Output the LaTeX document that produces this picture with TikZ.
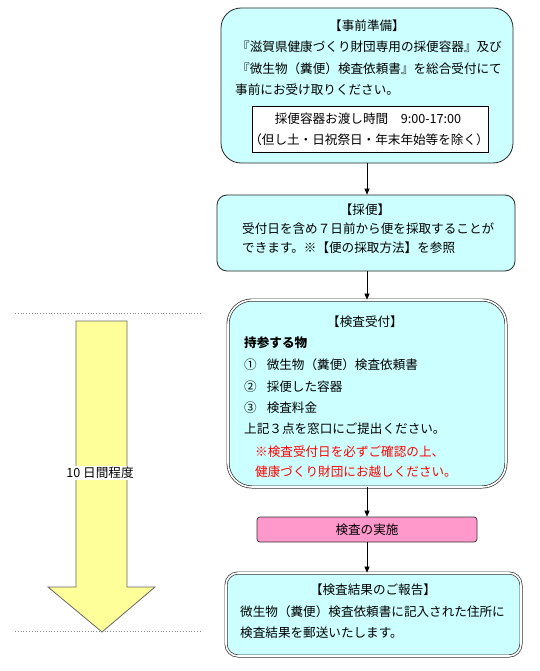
\documentclass[tikz,border=0pt]{standalone}
\usepackage{fontspec}
\newfontfamily\cjk{Noto Sans CJK JP}
\usetikzlibrary{arrows.meta}
\definecolor{boxcyan}{HTML}{CCFFFF}
\definecolor{boxpink}{HTML}{FF99CC}
\definecolor{arrowyellow}{HTML}{FFFF99}
\newcommand\fs{\fontsize{12.6}{12.6}\selectfont}
\tikzset{
  box/.style={draw=black!85, fill=boxcyan, line width=0.8pt, minimum width=#1, inner sep=0pt},
  dbox/.style={draw=black!80, double=white, double distance=1.6pt, line width=0.7pt, fill=boxcyan, inner sep=0pt},
  txt/.style={font=\cjk\fs, inner sep=0pt, anchor=base west},
  ctxt/.style={font=\cjk\fs, inner sep=0pt, anchor=base},
  flow/.style={-{Triangle[length=6pt,width=5pt]}, line width=0.6pt, black},
  sep/.style={draw=black!45, dotted, line width=0.8pt}
}
\begin{document}
\begin{tikzpicture}[x=1pt,y=-1pt]
\useasboundingbox[fill=white] (0,0) rectangle (539,671);

% box 1
\node[box=292pt, minimum height=155pt, rounded corners=20pt] (b1) at (367,85.5) {};
\node[ctxt] (b1h) at (367,31) {【事前準備】};
\node[txt] (b1a) at (237,52) {『滋賀県健康づくり財団専用の採便容器』及び};
\node[txt] (b1b) at (237,74) {『微生物（糞便）検査依頼書』を総合受付にて};
\node[txt] (b1c) at (235,95) {事前にお受け取りください。};
\node[draw=black, fill=white, line width=0.7pt, minimum width=236pt, minimum height=46pt, inner sep=0pt] (ib) at (370,129) {};
\node[ctxt] (iba) at (368,123.5) {採便容器お渡し時間\quad 9:00-17:00};
\node[ctxt] (ibb) at (369,144.5) {（但し土・日祝祭日・年末年始等を除く）};

% box 2
\node[box=298pt, minimum height=76pt, rounded corners=10pt] (b2) at (366,233) {};
\node[ctxt] (b2h) at (365,214.5) {【採便】};
\node[txt] (b2a) at (242,233.5) {受付日を含め７日前から便を採取することが};
\node[txt] (b2b) at (242,252.5) {できます。※【便の採取方法】を参照};

% box 3
\node[dbox, minimum width=278pt, minimum height=187pt, rounded corners=24pt] (b3) at (367,393.5) {};
\node[ctxt] (b3h) at (365,326.5) {【検査受付】};
\node[txt, font=\cjk\fs\bfseries] (b3a) at (244,347.5) {持参する物};
\node[txt] (b3b) at (244,369.5) {①\hspace{10pt}微生物（糞便）検査依頼書};
\node[txt] (b3c) at (244,391.5) {②\hspace{10pt}採便した容器};
\node[txt] (b3d) at (244,412.5) {③\hspace{10pt}検査料金};
\node[txt] (b3e) at (244,433.5) {上記３点を窓口にご提出ください。};
\node[txt, text=red] (b3f) at (255,456.5) {※検査受付日を必ずご確認の上、};
\node[txt, text=red] (b3g) at (255,476.5) {健康づくり財団にお越しください。};

% pink box
\node[draw=black!80, fill=boxpink, line width=0.7pt, minimum width=220pt, minimum height=25pt, rounded corners=3pt, inner sep=0pt] (b4) at (367,529.5) {};
\node[ctxt] (b4t) at (367,534.5) {検査の実施};

% box 5
\node[dbox, minimum width=295pt, minimum height=83pt, rounded corners=12pt] (b5) at (373.5,614.5) {};
\node[ctxt] (b5h) at (373,594.5) {【検査結果のご報告】};
\node[txt] (b5a) at (240,616.5) {微生物（糞便）検査依頼書に記入された住所に};
\node[txt] (b5b) at (240,637.5) {検査結果を郵送いたします。};

% connectors
\draw[flow] (b1.south) -- (b1.south |- b2.north);
\draw[flow] (b1.south |- b2.south) -- (b1.south |- b3.north);
\draw[flow] (b1.south |- b3.south) -- (b1.south |- b4.north);
\draw[flow] (b1.south |- b4.south) -- (b1.south |- b5.north);

% left timeline
\coordinate (d1a) at (15,313); \coordinate (d1b) at (200,313);
\coordinate (d2a) at (15,631); \coordinate (d2b) at (200,631);
\draw[sep] (d1a) -- (d1b);
\draw[sep] (d2a) -- (d2b);
\draw[fill=arrowyellow, draw=black!60, line width=0.8pt]
  (76,321) -- (127,321) -- (127,587) -- (155,587) -- (102,632) -- (48,587) -- (76,587) -- cycle;
\node[fill=white, inner sep=1.5pt, font=\cjk\fs] (lbl) at (100,473) {10 日間程度};
\end{tikzpicture}
\end{document}
